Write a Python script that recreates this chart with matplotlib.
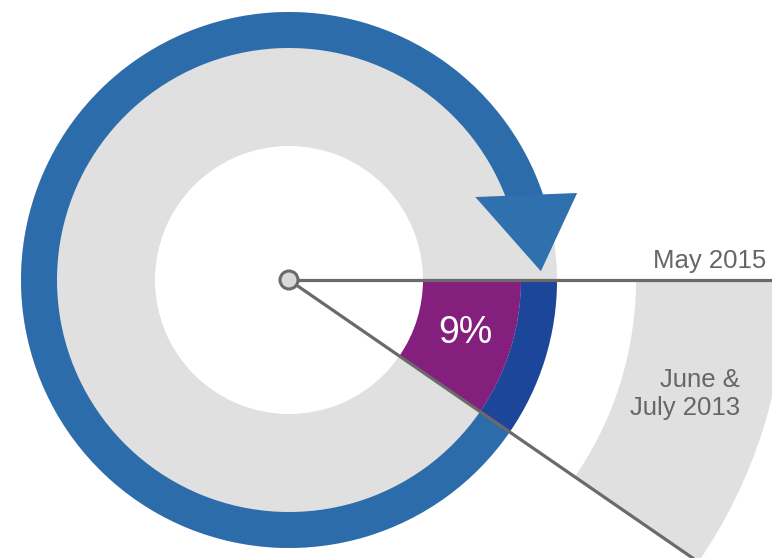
import numpy as np
import matplotlib.pyplot as plt
from matplotlib.patches import Wedge, Circle, Polygon

# --Datos
share = 0.096                       # fraccion del ciclo (cuña)
share_label = "9%"
date_labels = ["May 2015", "June &\nJuly 2013"]

# --Geometria (pixeles)
cx, cy = 289, 278
r_hole, r_ring, r_band = 134, 232, 268
r_out_in, r_out = 347, 497
wedge_deg = share * 360

grey = "#E0E0E0"
purple = "#841F7E"
dark_blue = "#1C4699"
blue = "#2D6CAB"
line_grey = "#6B6969"
text_grey = "#666666"

fig = plt.figure(figsize=(7.72, 5.58), dpi=100)
ax = fig.add_axes([0, 0, 1, 1])
ax.set_xlim(0, 772)
ax.set_ylim(0, 558)
ax.set_aspect("equal")
ax.axis("off")

# --Anillo gris y cuña
ax.add_patch(Wedge((cx, cy), r_band, 0, 360, width=r_band - r_hole, color=grey, lw=0))
ax.add_patch(Wedge((cx, cy), r_ring, -wedge_deg, 0, width=r_ring - r_hole, color=purple, lw=0))
ax.add_patch(Wedge((cx, cy), r_band, -wedge_deg, 0, width=r_band - r_ring, color=dark_blue, lw=0))
ax.add_patch(Wedge((cx, cy), r_out, -wedge_deg, 0, width=r_out - r_out_in, color=grey, lw=0))

# --Flecha azul
ax.add_patch(Wedge((cx, cy), r_band, 16, 360 - wedge_deg, width=r_band - r_ring, color=blue, lw=0))
head = [(204, 24), (301, 16.8), (252, 2)]  # (radio, angulo)
pts = [(cx + r * np.cos(np.radians(a)), cy + r * np.sin(np.radians(a))) for r, a in head]
ax.add_patch(Polygon(pts, closed=True, color="#2F70AF", lw=0))

# --Lineas
L = 520
for a in [0, -wedge_deg]:
    ax.plot([cx, cx + L * np.cos(np.radians(a))], [cy, cy + L * np.sin(np.radians(a))],
            color=line_grey, lw=2.3, solid_capstyle="butt", zorder=5)
ax.add_patch(Circle((cx, cy), 9, facecolor="#D9D9D9", edgecolor=line_grey, lw=2.2, zorder=6))

# --Textos
mid = np.radians(-wedge_deg / 2)
rm = (r_hole + r_ring) / 2 - 4
ax.text(cx + rm * np.cos(mid) + 5, cy + rm * np.sin(mid), share_label, color="white",
        fontsize=27, family="Liberation Sans", ha="center", va="center", zorder=7)
ax.text(766, 290, date_labels[0], color=text_grey, fontsize=18.5, family="Liberation Sans",
        ha="right", va="baseline")
ax.text(740, 164, date_labels[1], color=text_grey, fontsize=18.5, family="Liberation Sans",
        ha="right", va="center", multialignment="right", linespacing=1.2)

fig.savefig("out.png", dpi=100)
